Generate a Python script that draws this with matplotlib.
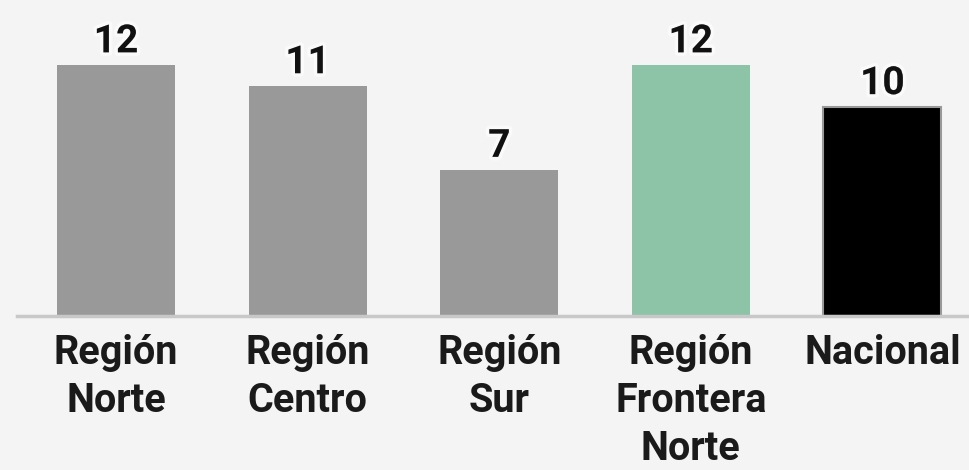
import matplotlib
matplotlib.use("Agg")
import matplotlib.pyplot as plt
import matplotlib.patheffects as pe

categories = ["Región\nNorte", "Región\nCentro", "Región\nSur", "Región\nFrontera\nNorte", "Nacional"]
values = [12, 11, 7, 12, 10]
colors = ["#999999", "#999999", "#999999", "#8dc4a8", "#000000"]
edgecolors = ["none", "none", "none", "none", "#999999"]

BG = "#f4f4f4"
fig = plt.figure(figsize=(9.7, 4.7), dpi=100, facecolor=BG)
ax = fig.add_axes([17/970, 154/470, 953/970, 316/470], facecolor=BG)

x = list(range(len(categories)))
bars = ax.bar(x, values, width=0.616, color=colors, edgecolor=edgecolors, linewidth=1.5, zorder=2)

ax.set_xlim(-0.517, 4.457)
ax.set_ylim(0, 15.12)

for s in ["top", "right", "left"]:
    ax.spines[s].set_visible(False)
ax.spines["bottom"].set_color("#c8c8c8")
ax.spines["bottom"].set_linewidth(2.5)
ax.set_yticks([])
ax.set_xticks(x)
ax.set_xticklabels(categories, fontsize=28.5, fontfamily="Roboto", fontweight="bold",
                   color="#1a1a1a", linespacing=1.33)
ax.tick_params(axis="x", length=0, pad=13)

halo = [pe.withStroke(linewidth=5, foreground="#ffffff", alpha=0.6)]
for xi, v in zip(x, values):
    ax.annotate(f"{v}", (xi, v), xytext=(0, 3.5), textcoords="offset points",
                ha="center", va="bottom", fontsize=28, fontfamily="Roboto",
                fontweight="bold", color="#111111", path_effects=halo, zorder=3)

fig.savefig("out.png", dpi=100, facecolor=BG)
